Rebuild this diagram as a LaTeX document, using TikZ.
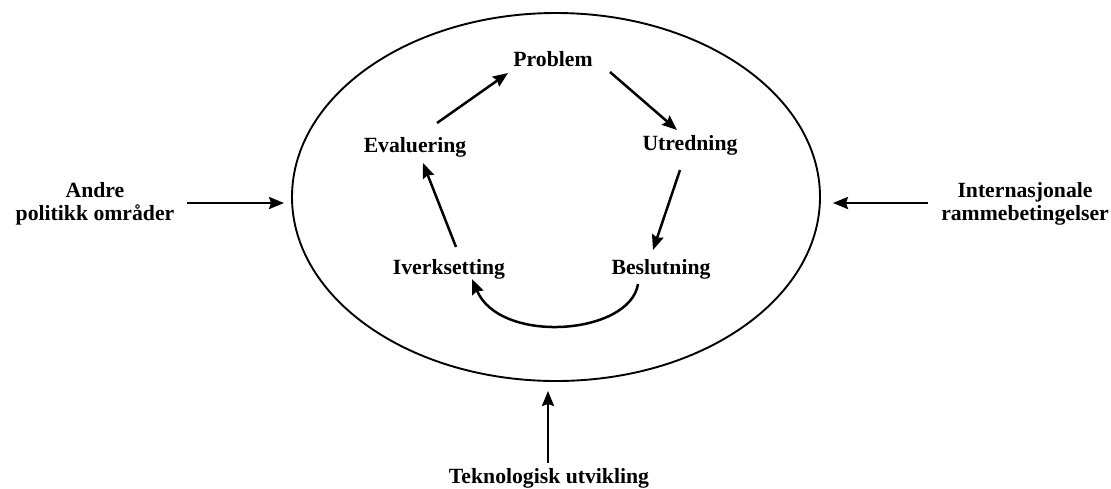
\documentclass[tikz,border=0pt]{standalone}
\usepackage{fontspec}
\setmainfont{Liberation Serif}
\usetikzlibrary{arrows.meta,shapes.geometric}
\begin{document}
\begin{tikzpicture}[x=1pt,y=-1pt,
  lbl/.style={font=\fontsize{21.7}{23}\selectfont\bfseries, inner sep=0pt},
  flow/.style={line width=2.5pt, -{Stealth[length=15pt,width=12pt,inset=2pt]}},
  frame/.style={draw, line width=1.9pt, ellipse, inner sep=0pt, minimum width=528pt, minimum height=368pt}]
\useasboundingbox (0,0) rectangle (1111,488);
\node[frame] (sys) at (556,197) {};
\node[lbl, anchor=base] (prob) at (553,66) {Problem};
\node[lbl, anchor=base] (utred) at (690,150) {Utredning};
\node[lbl, anchor=base] (besl) at (661,274) {Beslutning};
\node[lbl, anchor=base] (iverk) at (449,274) {Iverksetting};
\node[lbl, anchor=base] (eval) at (415,152) {Evaluering};
\node[lbl, align=center] (andre) at (95,204) {Andre\\politikk områder};
\node[lbl, align=center] (intern) at (1025,204) {Internasjonale\\rammebetingelser};
\node[lbl, anchor=base] (tekn) at (549,483) {Teknologisk utvikling};

\draw[flow] ([shift={(22,-29)}]eval.base) -- ([shift={(-45,7)}]prob.base);
\draw[flow] ([shift={(57,6)}]prob.base) -- ([shift={(-13,-20)}]utred.base);
\draw[flow] ([shift={(-10,20)}]utred.base) -- ([shift={(-8,-24)}]besl.base);
\draw[flow] ([shift={(-23,10)}]besl.base) .. controls +(-8,51) and +(28,66) .. ([shift={(23,5)}]iverk.base);
\draw[flow] ([shift={(7,-27)}]iverk.base) -- ([shift={(8,11)}]eval.base);

\draw[flow] ([shift={(13,-1)}]andre.east) -- ([shift={(-7,6)}]sys.west);
\draw[flow] ([shift={(-13,-1)}]intern.west) -- ([shift={(12,6)}]sys.east);
\draw[flow] ([shift={(-1,-20)}]tekn.base) -- ([shift={(-8,9)}]sys.south);
\end{tikzpicture}
\end{document}
